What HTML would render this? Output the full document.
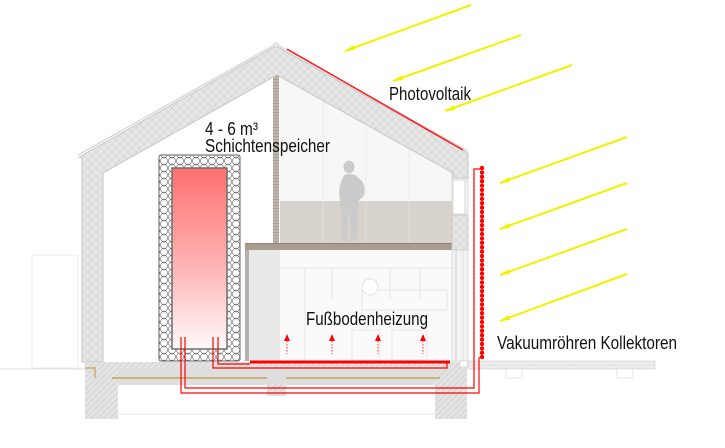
<!DOCTYPE html>
<html><head><meta charset="utf-8">
<style>
html,body{margin:0;padding:0;background:#fff;}
svg{display:block;}
text{font-family:"Liberation Sans",Arial,sans-serif;fill:#111;}
</style></head>
<body>
<svg width="725" height="448" viewBox="0 0 725 448" xmlns="http://www.w3.org/2000/svg">
<defs>
  <pattern id="hatch" width="6" height="6" patternUnits="userSpaceOnUse">
    <rect width="6" height="6" fill="#e3e3e3"/>
    <path d="M0,6 L6,0 M-1,1 L1,-1 M5,7 L7,5" stroke="#cdcdcd" stroke-width="0.7"/>
  </pattern>
  <pattern id="xhatch" width="8" height="8" patternUnits="userSpaceOnUse">
    <rect width="8" height="8" fill="#e6e6e6"/>
    <path d="M0,8 L8,0 M0,0 L8,8" stroke="#cfcfcf" stroke-width="0.6"/>
  </pattern>
  <pattern id="insul" width="8" height="7" patternUnits="userSpaceOnUse">
    <rect width="8" height="7" fill="#fff"/>
    <path d="M0,0 Q4,8 8,0 M0,7 Q4,-1 8,7" stroke="#555" stroke-width="0.55" fill="none"/>
  </pattern>
  <pattern id="colh" width="6" height="3" patternUnits="userSpaceOnUse">
    <rect width="6" height="3" fill="#bfb5aa"/>
    <path d="M0,1.5 L6,1.5" stroke="#a59a8d" stroke-width="0.8"/>
  </pattern>
  <linearGradient id="tank" x1="0" y1="0" x2="0" y2="1">
    <stop offset="0" stop-color="#ff7070"/>
    <stop offset="0.55" stop-color="#ffb4b4"/>
    <stop offset="1" stop-color="#fffafa"/>
  </linearGradient>
  <marker id="ah" markerWidth="11" markerHeight="6" refX="10" refY="3" orient="auto" markerUnits="userSpaceOnUse">
    <path d="M0,0.5 L11,3 L0,5.5 z" fill="#f4f000"/>
  </marker>
</defs>

<!-- faint left outline & ground lines -->
<rect x="32" y="255" width="46" height="113" fill="none" stroke="#ededed" stroke-width="1"/>
<line x1="0" y1="369" x2="85" y2="369" stroke="#dcdcdc" stroke-width="1"/>
<line x1="118" y1="414" x2="435" y2="414" stroke="#e4e4e4" stroke-width="1"/>

<!-- upper room background -->
<polygon points="280,77 453,173 453,243 280,243" fill="#f7f7f7"/>
<line x1="323" y1="100" x2="323" y2="201" stroke="#ececec"/>
<line x1="366" y1="124" x2="366" y2="201" stroke="#ececec"/>
<line x1="409" y1="148" x2="409" y2="201" stroke="#ececec"/>

<!-- beige panel -->
<rect x="280" y="201" width="172" height="42" fill="#d7d2cb"/>
<line x1="323" y1="201" x2="323" y2="243" stroke="#e2ded8"/>
<line x1="366" y1="201" x2="366" y2="243" stroke="#e2ded8"/>
<line x1="409" y1="201" x2="409" y2="243" stroke="#e2ded8"/>

<!-- person -->
<g fill="#cbcbcb">
  <ellipse cx="349" cy="167" rx="5.5" ry="6.5"/>
  <path d="M344,175 Q349,173 355,175 L362,181 Q367,189 363,197 L359,200 L358,212 L357,240 L351,241 L350,214 L348,214 L347,241 L341,241 L341,210 L340,200 Q338,190 341,182 Z"/>
</g>

<!-- column -->
<rect x="273" y="75" width="6" height="168" fill="url(#colh)"/>

<!-- gallery slab -->
<rect x="245" y="243" width="213" height="7" fill="#a99d90"/>
<line x1="245" y1="243.5" x2="458" y2="243.5" stroke="#8f8377" stroke-width="1"/>

<!-- lower room -->
<rect x="280" y="250" width="172" height="111" fill="#fafafa"/>
<g stroke="#e6e6e6" stroke-width="1" fill="none">
  <line x1="280" y1="268" x2="452" y2="268"/>
  <line x1="305" y1="268" x2="305" y2="361"/>
  <line x1="332" y1="268" x2="332" y2="300"/>
  <line x1="390" y1="268" x2="390" y2="300"/>
  <line x1="420" y1="268" x2="420" y2="300"/>
  <rect x="362" y="290" width="85" height="20"/>
  <rect x="352" y="330" width="28" height="30"/>
  <rect x="392" y="330" width="35" height="30"/>
</g>
<circle cx="370" cy="287" r="8" fill="#fff" stroke="#e2e2e2"/>

<!-- lower left wall element -->
<rect x="245" y="250" width="4" height="111" fill="#b4b0ac"/>
<rect x="249" y="250" width="31" height="111" fill="#e9e9e9"/>

<!-- right wall -->
<rect x="452" y="173" width="16" height="188" fill="#f2f2f2" stroke="#d6d6d6" stroke-width="0.8"/>
<rect x="453" y="180" width="12" height="34" fill="#fff" stroke="#d0d0d0" stroke-width="0.8"/>
<rect x="452" y="215" width="16" height="35" fill="url(#xhatch)" stroke="#c8c8c8" stroke-width="0.8"/>
<line x1="456" y1="250" x2="456" y2="361" stroke="#cfcfcf"/>
<line x1="463" y1="250" x2="463" y2="361" stroke="#e0e0e0"/>

<!-- roof + left wall shell -->
<polygon points="79,157 276,46 468,153 468,178 453,178 453,173 277,75 103,173 103,362 82,362 82,158" fill="url(#xhatch)" stroke="#c6c6c6" stroke-width="1"/>
<polyline points="78,155 276,44 468,151" fill="none" stroke="#d2d2d2" stroke-width="1.2"/>
<circle cx="276" cy="45" r="2.5" fill="#e8e8e8" stroke="#cfcfcf" stroke-width="0.6"/>
<line x1="90" y1="157" x2="90" y2="362" stroke="#d4d4d4" stroke-width="0.6"/>

<!-- PV line -->
<line x1="287" y1="49" x2="463" y2="150" stroke="#ff1a1a" stroke-width="1.5"/>

<!-- floor layers -->
<rect x="103" y="362" width="349" height="7" fill="url(#hatch)"/>
<rect x="85" y="369" width="382" height="16" fill="#dedede"/>
<rect x="85" y="362" width="33" height="57" fill="url(#hatch)"/>
<rect x="435" y="362" width="32" height="57" fill="url(#hatch)"/>
<rect x="267" y="384" width="19" height="12" fill="url(#hatch)"/>
<line x1="112" y1="378" x2="267" y2="378" stroke="#c9a253" stroke-width="1.5"/>
<line x1="286" y1="378" x2="440" y2="378" stroke="#c9a253" stroke-width="1.5"/>
<polyline points="85,368 95,368 95,378" fill="none" stroke="#c9a253" stroke-width="1.2"/>

<!-- deck -->
<rect x="468" y="361" width="187" height="8" fill="#ececec" stroke="#d4d4d4" stroke-width="0.8"/>
<line x1="468" y1="365" x2="655" y2="365" stroke="#d8d8d8" stroke-dasharray="3,2" stroke-width="0.8"/>
<rect x="506" y="369" width="16" height="9" fill="#fff" stroke="#dcdcdc" stroke-width="0.8"/>
<rect x="617" y="369" width="16" height="9" fill="#fff" stroke="#dcdcdc" stroke-width="0.8"/>
<rect x="460" y="361" width="7" height="6" fill="#fff" stroke="#d4d4d4" stroke-width="0.6"/>

<!-- tank -->
<rect x="159" y="155" width="81" height="206" rx="2" fill="url(#insul)" stroke="#666" stroke-width="1"/>
<rect x="172" y="168" width="55" height="181" fill="url(#tank)" stroke="#6d6d6d" stroke-width="1.5"/>

<!-- pipes -->
<g fill="none" stroke="#ff0000" stroke-width="1.2">
  <polyline points="181,337 181,393 479,393 479,357"/>
  <polyline points="185,337 185,388 474,388 474,169 482,169"/>
  <polyline points="213,337 213,368 447,368 447,363"/>
  <polyline points="218,337 218,364 250,364"/>
</g>
<rect x="250" y="360.5" width="200" height="3" fill="#ff0000"/>

<!-- collector dots -->
<g fill="#ff0000">
  <circle cx="482" cy="168" r="2.2"/><circle cx="482" cy="172.4" r="2.2"/><circle cx="482" cy="176.8" r="2.2"/><circle cx="482" cy="181.2" r="2.2"/><circle cx="482" cy="185.6" r="2.2"/><circle cx="482" cy="190" r="2.2"/><circle cx="482" cy="194.4" r="2.2"/><circle cx="482" cy="198.8" r="2.2"/><circle cx="482" cy="203.2" r="2.2"/><circle cx="482" cy="207.6" r="2.2"/><circle cx="482" cy="212" r="2.2"/><circle cx="482" cy="216.4" r="2.2"/><circle cx="482" cy="220.8" r="2.2"/><circle cx="482" cy="225.2" r="2.2"/><circle cx="482" cy="229.6" r="2.2"/><circle cx="482" cy="234" r="2.2"/><circle cx="482" cy="238.4" r="2.2"/><circle cx="482" cy="242.8" r="2.2"/><circle cx="482" cy="247.2" r="2.2"/><circle cx="482" cy="251.6" r="2.2"/><circle cx="482" cy="256" r="2.2"/><circle cx="482" cy="260.4" r="2.2"/><circle cx="482" cy="264.8" r="2.2"/><circle cx="482" cy="269.2" r="2.2"/><circle cx="482" cy="273.6" r="2.2"/><circle cx="482" cy="278" r="2.2"/><circle cx="482" cy="282.4" r="2.2"/><circle cx="482" cy="286.8" r="2.2"/><circle cx="482" cy="291.2" r="2.2"/><circle cx="482" cy="295.6" r="2.2"/><circle cx="482" cy="300" r="2.2"/><circle cx="482" cy="304.4" r="2.2"/><circle cx="482" cy="308.8" r="2.2"/><circle cx="482" cy="313.2" r="2.2"/><circle cx="482" cy="317.6" r="2.2"/><circle cx="482" cy="322" r="2.2"/><circle cx="482" cy="326.4" r="2.2"/><circle cx="482" cy="330.8" r="2.2"/><circle cx="482" cy="335.2" r="2.2"/><circle cx="482" cy="339.6" r="2.2"/><circle cx="482" cy="344" r="2.2"/><circle cx="482" cy="348.4" r="2.2"/><circle cx="482" cy="352.8" r="2.2"/><circle cx="482" cy="357" r="2.2"/>
</g>

<!-- floor heating arrows -->
<g fill="#ff0000">
  <polygon points="287,334 284,341 290,341"/>
  <polygon points="332,334 329,341 335,341"/>
  <polygon points="378,334 375,341 381,341"/>
  <polygon points="423,334 420,341 426,341"/>
</g>
<g stroke="#ff3030" stroke-width="1" stroke-dasharray="1.5,1.5">
  <line x1="287" y1="341" x2="287" y2="354"/>
  <line x1="332" y1="341" x2="332" y2="354"/>
  <line x1="378" y1="341" x2="378" y2="354"/>
  <line x1="423" y1="341" x2="423" y2="354"/>
</g>

<!-- sun rays -->
<g stroke="#f4f000" stroke-width="2" marker-end="url(#ah)">
  <line x1="471" y1="5" x2="345" y2="51"/>
  <line x1="521" y1="35" x2="393" y2="81"/>
  <line x1="572" y1="65" x2="445" y2="111"/>
  <line x1="627" y1="137" x2="500" y2="183"/>
  <line x1="627" y1="183" x2="500" y2="229"/>
  <line x1="627" y1="229" x2="500" y2="275"/>
  <line x1="627" y1="274" x2="500" y2="321"/>
</g>

<!-- labels -->
<text x="205" y="135" font-size="18" textLength="53" lengthAdjust="spacingAndGlyphs">4 - 6 m³</text>
<text x="205" y="152" font-size="18" textLength="125" lengthAdjust="spacingAndGlyphs">Schichtenspeicher</text>
<text x="389" y="100" font-size="18" textLength="82" lengthAdjust="spacingAndGlyphs">Photovoltaik</text>
<text x="306" y="325" font-size="18" textLength="122" lengthAdjust="spacingAndGlyphs">Fußbodenheizung</text>
<text x="497" y="349" font-size="18" textLength="180" lengthAdjust="spacingAndGlyphs">Vakuumröhren Kollektoren</text>
</svg>
</body></html>
